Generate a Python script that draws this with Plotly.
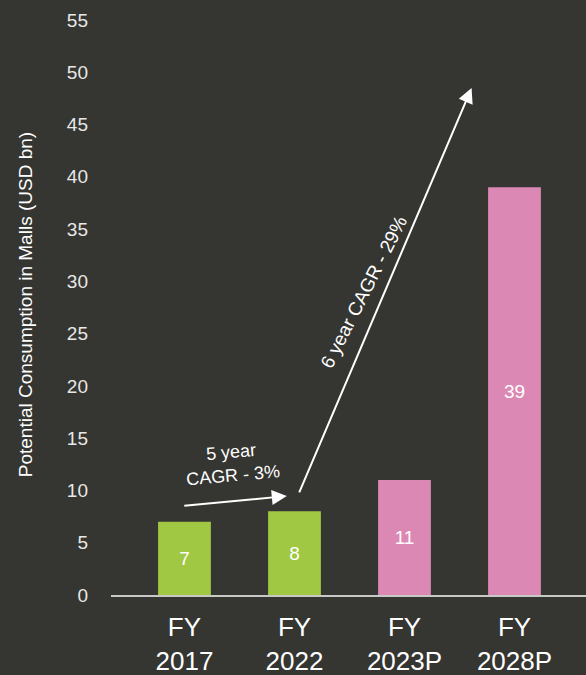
import plotly.graph_objects as go

# Potential consumption in malls, USD bn
years = ["FY<br>2017", "FY<br>2022", "FY<br>2023P", "FY<br>2028P"]
consumption = [7, 8, 11, 39]
bar_colors = ["#a0c843", "#a0c843", "#dc88b4", "#dc88b4"]
y_ticks = [0, 5, 10, 15, 20, 25, 30, 35, 40, 45, 50, 55]

BG = "#353531"
FONT = "Liberation Sans, Arial, sans-serif"

fig = go.Figure(
    go.Bar(
        x=list(range(len(years))),
        y=consumption,
        marker=dict(color=bar_colors, line=dict(width=0)),
        width=0.48,
        text=[str(v) for v in consumption],
        textposition="inside",
        insidetextanchor="middle",
        textfont=dict(color="white", size=19, family=FONT),
        hoverinfo="skip",
    )
)

fig.update_layout(
    width=586,
    height=675,
    paper_bgcolor=BG,
    plot_bgcolor=BG,
    margin=dict(l=111, r=0, t=20, b=80),
    showlegend=False,
    font=dict(family=FONT, color="white"),
    xaxis=dict(
        range=[-0.668, 3.65],
        tickmode="array",
        tickvals=list(range(len(years))),
        ticktext=years,
        tickfont=dict(size=26, color="white", family=FONT),
        showgrid=False,
        zeroline=False,
        showline=True,
        linecolor="#c8c8c6",
        linewidth=2,
        ticks="",
        ticklabelstandoff=8,
    ),
    yaxis=dict(
        range=[0, 55],
        tickmode="array",
        tickvals=y_ticks,
        tickfont=dict(size=19, color="#e8e8e6", family=FONT),
        showgrid=False,
        zeroline=False,
        showline=False,
        ticks="",
        ticklabelstandoff=22,
    ),
    annotations=[
        dict(
            text="Potential Consumption in Malls (USD bn)",
            xref="paper", yref="paper",
            x=-0.181, y=0.504,
            xanchor="center", yanchor="middle",
            textangle=-90,
            showarrow=False,
            font=dict(size=19, color="white", family=FONT),
        ),
        # 5-year growth arrow
        dict(
            xref="x", yref="y",
            x=0.93, y=9.47,
            ax=-104, ay=10,
            showarrow=True,
            arrowhead=2, arrowsize=1.5, arrowwidth=2,
            arrowcolor="white",
            text="",
        ),
        dict(
            text="5 year<br>CAGR - 3%",
            xref="x", yref="y",
            x=0.43, y=12.6,
            showarrow=False,
            textangle=-5,
            font=dict(size=18, color="white", family=FONT),
        ),
        # 6-year growth arrow
        dict(
            xref="x", yref="y",
            x=2.61, y=48.5,
            ax=-173, ay=406,
            showarrow=True,
            arrowhead=2, arrowsize=1.5, arrowwidth=2,
            arrowcolor="white",
            text="",
        ),
        dict(
            text="6 year CAGR - 29%",
            xref="x", yref="y",
            x=1.635, y=29.0,
            showarrow=False,
            textangle=-63,
            font=dict(size=19, color="white", family=FONT),
        ),
    ],
)

fig.write_html("out.html")
